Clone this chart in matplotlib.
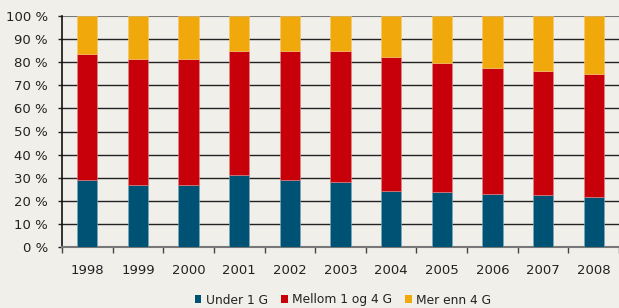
import matplotlib
matplotlib.use("Agg")
import matplotlib.pyplot as plt
import numpy as np
from matplotlib.ticker import FixedLocator, FuncFormatter

years = ["1998", "1999", "2000", "2001", "2002", "2003", "2004", "2005", "2006", "2007", "2008"]
under_1g = [29, 27, 27, 31, 29, 28, 24.4, 23.7, 22.8, 22.4, 21.5]
mellom_1_4g = [54.7, 54.2, 54.4, 54, 56, 57, 57.7, 56.1, 54.7, 53.8, 53.4]
mer_enn_4g = [100 - a - b for a, b in zip(under_1g, mellom_1_4g)]

labels = ["Under 1 G", "Mellom 1 og 4 G", "Mer enn 4 G"]
colors = ["#005274", "#c8000a", "#f0a80a"]
bg = "#f0efea"

plt.rcParams['font.family'] = ['DejaVu Sans']
fig = plt.figure(figsize=(6.19, 3.08), dpi=100, facecolor=bg)
ax = fig.add_axes([62/619, 1-247/308, 1-62/619, 231/308])
ax.set_facecolor(bg)

x = np.arange(len(years))
w = 0.4
b1 = ax.bar(x, under_1g, w, color=colors[0], label=labels[0], edgecolor="#7fa8ba", linewidth=0.4, zorder=3)
b2 = ax.bar(x, mellom_1_4g, w, bottom=under_1g, color=colors[1], label=labels[1], edgecolor="#e08a8a", linewidth=0.4, zorder=3)
bot3 = [a + b for a, b in zip(under_1g, mellom_1_4g)]
b3 = ax.bar(x, mer_enn_4g, w, bottom=bot3, color=colors[2], label=labels[2], edgecolor="#f5c870", linewidth=0.4, zorder=3)

ax.set_xlim(-0.5, len(years) - 0.5)
ax.set_ylim(0, 100)
ax.set_yticks(range(0, 101, 10))
ax.yaxis.set_major_formatter(FuncFormatter(lambda v, p: f"{int(v)} %"))
for yv in range(10, 100, 10):
    ax.axhline(yv, color="#222222", linewidth=1.0, zorder=1)
ax.axhline(100, color="#777777", linewidth=1.5, zorder=1)

ax.set_xticks(x)
ax.set_xticklabels(years)
ax.xaxis.set_minor_locator(FixedLocator(np.arange(-0.5, len(years), 1.0)))
ax.tick_params(axis='x', which='major', length=0, pad=12, labelsize=9.5, colors="#222222")
ax.tick_params(axis='x', which='minor', length=4, width=1, color="#444444", direction='out')
ax.tick_params(axis='y', which='major', length=3, width=1, color="#222222", labelsize=9.5, pad=7, labelcolor="#222222")

for s in ["top", "right"]:
    ax.spines[s].set_visible(False)
ax.spines["left"].set_color("#111111")
ax.spines["left"].set_linewidth(1.2)
ax.spines["bottom"].set_color("#777777")
ax.spines["bottom"].set_linewidth(1.5)

leg = fig.legend(handles=[b1, b2, b3], labels=labels, loc="center", bbox_to_anchor=(343/619, 1-300/308),
                 ncol=3, frameon=False, fontsize=8.8, handlelength=0.55, handleheight=0.55,
                 handletextpad=0.35, columnspacing=1.1, labelcolor="#222222")
for h in leg.legend_handles:
    h.set_linewidth(0)

fig.savefig("out.png", dpi=100, facecolor=bg)
